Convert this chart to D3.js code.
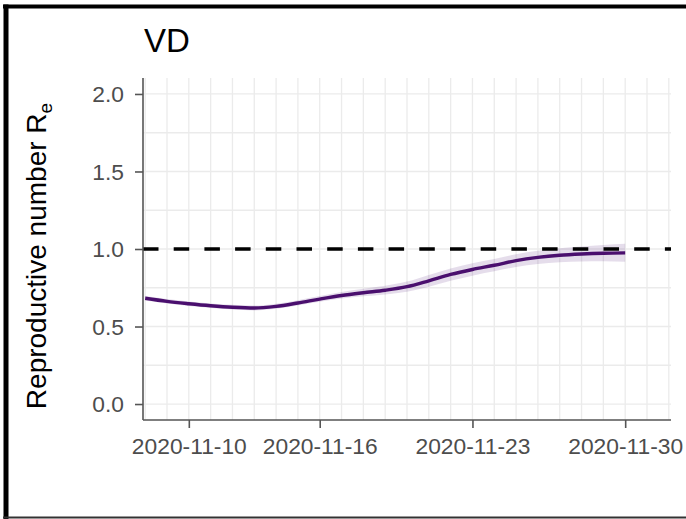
<!DOCTYPE html>
<html>
<head>
<meta charset="utf-8">
<script src="https://cdn.jsdelivr.net/npm/d3@7"></script>
<style>
  html, body { margin: 0; padding: 0; background: #fff; }
  svg { display: block; font-family: "Liberation Sans", Arial, Helvetica, sans-serif; }
</style>
</head>
<body>
<svg id="chart" width="686" height="519"></svg>
<script>
// ---- data ----
const title = "VD";
const dates = ["2020-11-08","2020-11-09","2020-11-10","2020-11-11","2020-11-12","2020-11-13","2020-11-14","2020-11-15","2020-11-16","2020-11-17","2020-11-18","2020-11-19","2020-11-20","2020-11-21","2020-11-22","2020-11-23","2020-11-24","2020-11-25","2020-11-26","2020-11-27","2020-11-28","2020-11-29","2020-11-30"];
const rMedian = [0.682,0.662,0.647,0.634,0.624,0.619,0.630,0.652,0.677,0.700,0.718,0.734,0.757,0.795,0.836,0.868,0.895,0.925,0.946,0.960,0.968,0.973,0.975];
const rLower  = [0.668,0.648,0.633,0.620,0.610,0.604,0.614,0.635,0.659,0.680,0.695,0.707,0.725,0.757,0.795,0.828,0.856,0.884,0.903,0.914,0.920,0.921,0.918];
const rUpper  = [0.697,0.677,0.662,0.649,0.640,0.635,0.647,0.670,0.697,0.722,0.743,0.763,0.790,0.833,0.875,0.908,0.935,0.966,0.988,1.005,1.016,1.026,1.034];
const xTickLabels = ["2020-11-10","2020-11-16","2020-11-23","2020-11-30"];
const yTicks = [0, 0.5, 1.0, 1.5, 2.0];
const yMinorTicks = [0, 0.25, 0.5, 0.75, 1.0, 1.25, 1.5, 1.75, 2.0];
const threshold = 1.0;
const xDomain = ["2020-11-08", "2020-12-02"];

// ---- layout ----
const svg = d3.select("#chart");
const parse = d3.utcParse("%Y-%m-%d");
const fmt = d3.utcFormat("%Y-%m-%d");
const DAY = 864e5;
const panel = { left: 143, right: 671, top: 78, bottom: 420 };

const x = d3.scaleUtc()
  .domain([new Date(parse(xDomain[0]).getTime() - 0.1 * DAY), new Date(parse(xDomain[1]).getTime() + 0.1 * DAY)])
  .range([panel.left, panel.right]);
const y = d3.scaleLinear()
  .domain([-0.103, 2.103])
  .range([panel.bottom, panel.top]);

const data = dates.map((d, i) => ({ date: parse(d), m: rMedian[i], lo: rLower[i], hi: rUpper[i] }));

// outer frame
svg.append("line").attr("x1", 3).attr("x2", 686).attr("y1", 6.5).attr("y2", 6.5)
  .attr("stroke", "#000").attr("stroke-width", 4);
svg.append("line").attr("x1", 6).attr("x2", 6).attr("y1", 4.5).attr("y2", 519)
  .attr("stroke", "#000").attr("stroke-width", 5);
svg.append("line").attr("x1", 3).attr("x2", 686).attr("y1", 517.5).attr("y2", 517.5)
  .attr("stroke", "#333").attr("stroke-width", 2);

// grid
const grid = svg.append("g");
const days = d3.utcDay.range(parse(xDomain[0]), new Date(parse(xDomain[1]).getTime() + 1));
grid.selectAll("line.v").data(days).join("line")
  .attr("x1", d => x(d)).attr("x2", d => x(d))
  .attr("y1", panel.top).attr("y2", panel.bottom)
  .attr("stroke", "#ebebeb").attr("stroke-width", 1.3);
grid.selectAll("line.h").data(yMinorTicks).join("line")
  .attr("x1", panel.left).attr("x2", panel.right)
  .attr("y1", d => y(d)).attr("y2", d => y(d))
  .attr("stroke", "#ebebeb").attr("stroke-width", 1.3);

// ribbon
svg.append("path").datum(data)
  .attr("d", d3.area().x(d => x(d.date)).y0(d => y(d.lo)).y1(d => y(d.hi)).curve(d3.curveMonotoneX))
  .attr("fill", "#4a0f6e").attr("fill-opacity", 0.14);

// threshold
svg.append("line")
  .attr("x1", panel.left).attr("x2", panel.right)
  .attr("y1", y(threshold)).attr("y2", y(threshold))
  .attr("stroke", "#000").attr("stroke-width", 3.5).attr("stroke-dasharray", "15.5,15.2");

// median line
svg.append("path").datum(data)
  .attr("d", d3.line().x(d => x(d.date)).y(d => y(d.m)).curve(d3.curveMonotoneX))
  .attr("fill", "none").attr("stroke", "#4a0f6e").attr("stroke-width", 3.4)
  .attr("stroke-linejoin", "round");

// axes
const axisColor = "#555";
const xAxis = svg.append("g").attr("transform", `translate(0,${panel.bottom})`)
  .call(d3.axisBottom(x).tickValues(xTickLabels.map(parse)).tickFormat(fmt)
    .tickSize(8).tickSizeOuter(0).tickPadding(10));
xAxis.select(".domain").remove();
xAxis.append("line").attr("x1", panel.left).attr("x2", panel.right)
  .attr("stroke", axisColor).attr("stroke-width", 1.6);
xAxis.selectAll(".tick line").attr("stroke", axisColor).attr("stroke-width", 1.6);
xAxis.selectAll(".tick text").attr("fill", "#4d4d4d").style("font-size", "22.8px")
  .style("font-family", "'Liberation Sans', Arial, sans-serif");

const yAxis = svg.append("g").attr("transform", `translate(${panel.left},0)`)
  .call(d3.axisLeft(y).tickValues(yTicks).tickFormat(d3.format(".1f"))
    .tickSize(8).tickSizeOuter(0).tickPadding(11));
yAxis.select(".domain").remove();
yAxis.append("line").attr("y1", panel.top).attr("y2", panel.bottom)
  .attr("stroke", axisColor).attr("stroke-width", 1.6);
yAxis.selectAll(".tick line").attr("stroke", axisColor).attr("stroke-width", 1.6);
yAxis.selectAll(".tick text").attr("fill", "#4d4d4d").style("font-size", "22.8px")
  .attr("dy", "0.34em")
  .style("font-family", "'Liberation Sans', Arial, sans-serif");

// y title
const yt = svg.append("text")
  .attr("transform", "translate(46,256) rotate(-90)")
  .attr("text-anchor", "middle")
  .attr("fill", "#000")
  .style("font-size", "28px");
yt.append("tspan").text("Reproductive number R");
yt.append("tspan").attr("dy", "0.3em").style("font-size", "19px").text("e");

// title
svg.append("text").attr("x", 144).attr("y", 52)
  .attr("fill", "#000").style("font-size", "33px").text(title);
</script>
</body>
</html>
